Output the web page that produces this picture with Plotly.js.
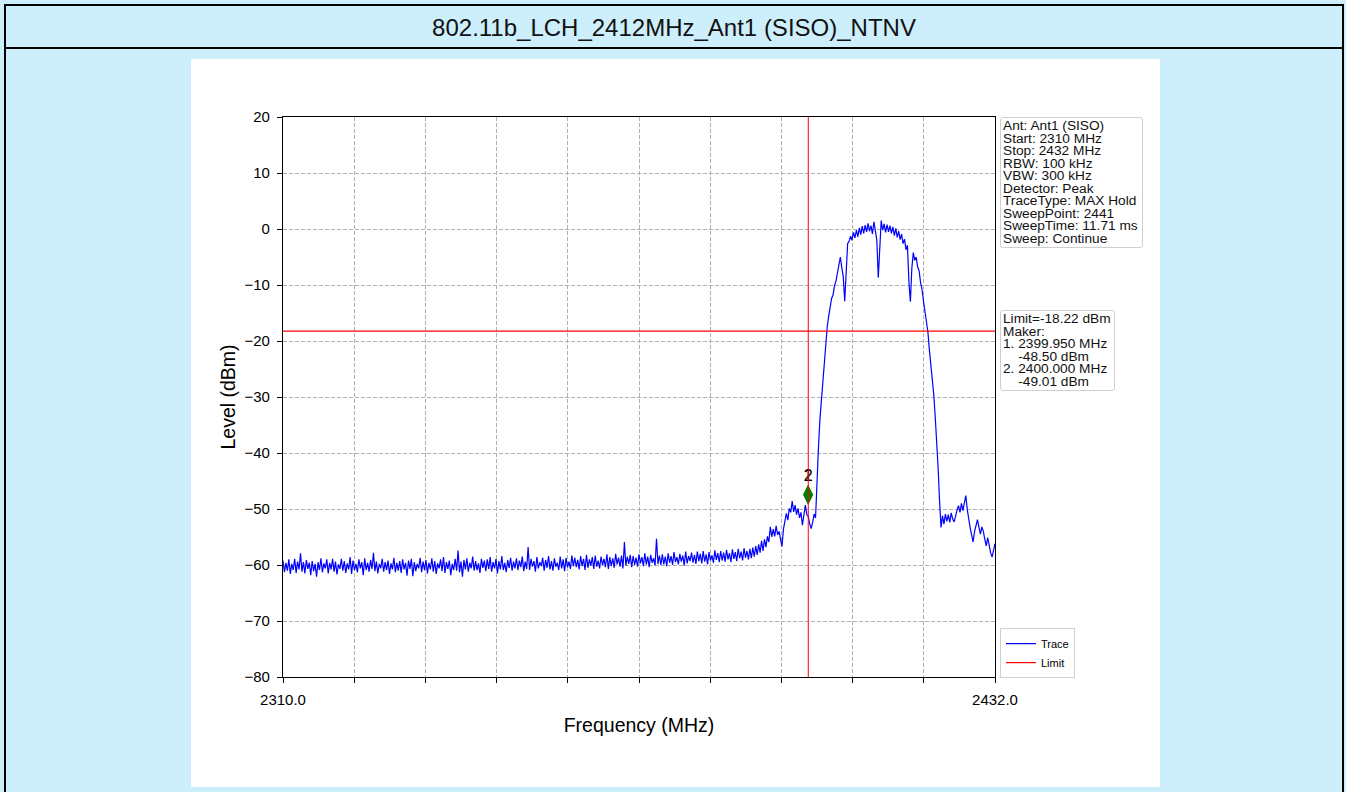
<!DOCTYPE html>
<html>
<head>
<meta charset="utf-8">
<script src="https://cdn.plot.ly/plotly-3.0.1.min.js"></script>
<style>
html,body{margin:0;padding:0;width:1346px;height:792px;overflow:hidden;background:#cdeefb;font-family:"Liberation Sans",Arial,sans-serif;}
#frame{position:absolute;left:4px;top:4px;width:1336px;height:800px;border:2px solid #000;border-bottom:none;box-sizing:content-box;}
#titlebar{height:41px;border-bottom:2px solid #000;text-align:center;line-height:44px;font-size:24px;color:#111;}
#chart{position:absolute;left:191px;top:59px;width:969px;height:728px;background:#fff;}
.box{position:absolute;z-index:5;background:#fff;border:1px solid #cfcfcf;border-radius:3px;font-size:13.7px;line-height:12.55px;color:#111;white-space:pre;padding:2px 2px 0 2px;box-sizing:border-box;}
</style>
</head>
<body>
<div id="frame"><div id="titlebar">802.11b_LCH_2412MHz_Ant1 (SISO)_NTNV</div></div>
<div id="chart"></div>
<div class="box" id="info" style="left:1000px;top:117px;width:143px;height:131px;"></div>
<div class="box" id="limitbox" style="left:1000px;top:310px;width:115px;height:81px;"></div>
<script>
// ---- data ----
const freqStart = 2310;       // MHz
const freqStop = 2432;        // MHz
const traceLevel = [
-59.2,-61.3,-59.6,-61.0,-59.0,-61.6,-59.8,-60.9,-58.9,-61.4,-59.4,-60.8,-57.9,-61.2,-59.5,-61.5,-59.1,-60.7,-59.6,-61.8,
-59.3,-61.1,-59.8,-62.1,-59.5,-60.9,-58.8,-61.3,-59.7,-60.6,-59.0,-61.5,-59.6,-60.8,-58.9,-61.2,-59.4,-61.7,-59.9,-60.7,
-58.9,-61.0,-59.3,-61.4,-59.7,-60.8,-58.6,-61.6,-59.2,-60.9,-59.8,-61.3,-59.0,-60.6,-59.5,-61.8,-58.8,-60.9,-59.6,-61.2,
-59.1,-60.7,-57.8,-61.1,-59.4,-61.5,-59.8,-60.6,-58.9,-61.2,-59.5,-60.9,-59.2,-61.6,-59.7,-60.8,-58.7,-61.3,-59.6,-61.0,
-59.3,-61.4,-59.0,-60.8,-59.6,-61.9,-59.2,-60.7,-58.9,-62.0,-59.5,-61.1,-59.8,-60.6,-58.7,-61.3,-59.4,-60.9,-59.1,-61.5,
-59.6,-60.8,-58.8,-61.2,-59.3,-61.6,-59.7,-60.6,-59.0,-61.1,-58.6,-61.4,-59.5,-60.7,-59.2,-61.8,-59.8,-60.9,-58.9,-61.0,
-57.4,-61.3,-59.4,-62.1,-59.1,-60.8,-58.8,-61.2,-59.6,-60.6,-58.5,-61.0,-59.3,-60.9,-59.7,-61.4,-58.9,-60.5,-59.2,-61.1,
-59.0,-60.7,-58.6,-61.2,-59.5,-60.6,-58.9,-61.5,-59.3,-60.8,-58.4,-60.9,-59.6,-61.3,-59.1,-60.5,-58.7,-61.0,-59.4,-60.6,
-58.8,-60.9,-59.2,-60.4,-58.5,-61.1,-59.4,-60.7,-56.8,-60.9,-58.9,-60.3,-59.3,-61.2,-58.6,-60.6,-59.5,-60.2,-58.7,-61.0,
-59.1,-60.5,-58.4,-60.8,-59.3,-61.0,-58.8,-60.3,-59.6,-60.9,-58.5,-60.6,-59.0,-61.1,-58.7,-60.4,-59.4,-60.7,-58.3,-60.2,
-58.7,-60.4,-59.1,-60.8,-58.4,-60.2,-58.9,-60.9,-58.2,-60.5,-59.0,-60.1,-58.6,-60.7,-58.3,-60.3,-59.2,-60.6,-58.5,-60.0,
-58.9,-60.4,-58.1,-60.7,-58.6,-60.2,-58.8,-60.5,-58.0,-59.9,-58.7,-60.3,-58.3,-60.6,-55.9,-60.1,-58.5,-59.8,-58.2,-60.4,
-58.4,-60.0,-58.7,-60.3,-58.1,-59.7,-58.6,-60.2,-57.9,-59.9,-58.5,-60.4,-58.2,-59.6,-58.8,-60.1,-55.3,-59.8,-58.3,-60.0,
-58.1,-59.9,-58.5,-60.2,-57.9,-59.6,-58.4,-60.0,-57.7,-59.5,-58.6,-59.9,-58.0,-59.4,-58.3,-60.1,-57.6,-59.7,-58.4,-59.3,
-57.8,-59.6,-58.2,-59.8,-57.6,-59.3,-58.0,-59.7,-57.5,-59.4,-58.1,-59.9,-57.7,-59.2,-58.3,-59.6,-57.4,-59.1,-57.9,-59.5,
-57.5,-59.2,-57.8,-59.4,-57.3,-59.0,-57.9,-59.5,-57.2,-58.9,-57.7,-59.3,-57.1,-58.8,-57.6,-59.2,-57.0,-58.7,-57.5,-59.0,
-57.1,-58.8,-56.9,-58.5,-56.6,-58.2,-56.3,-57.8,-55.7,-57.5,-55.4,-56.8,-54.9,-55.9,-53.2,-55.0,-53.6,-54.9,-53.0,-54.6,
-54.0,-55.8,-56.7,-53.6,-52.4,-50.8,-52.0,-49.9,-50.6,-48.6,-50.5,-49.3,-51.0,-49.9,-51.6,-50.6,-52.9,-51.0,-49.3,-51.0,
-51.3,-52.6,-53.5,-52.4,-50.9,-51.6,-44.5,-39.0,-34.0,-30.5,-27.3,-24.0,-20.2,-17.5,-15.6,-14.3,-12.4,-11.8,-10.1,-9.3,
-8.0,-6.3,-5.0,-6.9,-8.5,-12.9,-6.0,-2.6,-2.2,-1.3,-2.0,-0.6,-1.6,-0.2,-1.4,0.2,-1.0,0.5,-0.8,0.7,
-0.5,1.0,-0.4,0.6,-0.9,1.3,-0.3,-2.0,-8.7,-2.5,1.5,-0.2,0.9,-0.6,0.8,-0.5,0.6,-0.8,0.4,-1.2,
0.1,-1.5,-0.4,-1.9,-0.9,-2.6,-1.8,-3.7,-2.9,-9.5,-13.0,-7.0,-4.2,-5.6,-5.0,-6.8,-7.5,-9.6,-10.8,-12.9,
-14.6,-16.5,-18.4,-21.5,-23.8,-26.4,-29.5,-33.4,-37.5,-42.6,-48.5,-53.3,-51.2,-52.7,-50.9,-52.2,-51.0,-52.4,-50.7,-51.8,
-52.3,-51.1,-50.2,-49.4,-50.6,-49.0,-50.3,-48.9,-47.6,-50.1,-52.2,-53.4,-54.6,-55.9,-54.0,-53.1,-51.9,-53.3,-54.5,-53.2,
-54.0,-55.4,-56.6,-55.1,-56.9,-57.8,-58.6,-57.0,-56.2
];
const limitLevel = -18.22;
const markerFreqs = [2399.95, 2400.0];
const markerPlotLevels = [-47.4, -47.5];
const markerLabels = ["1", "2"];
const markerTableLevels = ["-48.50", "-49.01"];
const xTickVals = [2310, 2322.2, 2334.4, 2346.6, 2358.8, 2371, 2383.2, 2395.4, 2407.6, 2419.8, 2432];
const xTickText = ["2310.0", "", "", "", "", "", "", "", "", "", "2432.0"];
const yTickVals = [20, 10, 0, -10, -20, -30, -40, -50, -60, -70, -80];
const infoLines = ["Ant: Ant1 (SISO)", "Start: 2310 MHz", "Stop: 2432 MHz", "RBW: 100 kHz", "VBW: 300 kHz",
  "Detector: Peak", "TraceType: MAX Hold", "SweepPoint: 2441", "SweepTime: 11.71 ms", "Sweep: Continue"];

// ---- side boxes ----
document.getElementById('info').textContent = infoLines.join('\n');
const limLines = ["Limit=" + limitLevel.toFixed(2) + " dBm", "Maker:"];
markerFreqs.forEach((f, i) => {
  limLines.push((i + 1) + ". " + f.toFixed(3) + " MHz");
  limLines.push("    " + markerTableLevels[i] + " dBm");
});
document.getElementById('limitbox').textContent = limLines.join('\n');

// ---- chart ----
const font = 'Liberation Sans, Arial, sans-serif';
const freqStep = (freqStop - freqStart) / (traceLevel.length - 1);
const traces = [
  {type: 'scatter', mode: 'lines', name: 'Trace', x0: freqStart, dx: freqStep, y: traceLevel,
   line: {color: '#0000ff', width: 1.2}},
  {type: 'scatter', mode: 'lines', name: 'Limit', x: [freqStart, freqStop], y: [limitLevel, limitLevel],
   line: {color: '#ff0000', width: 1.2}},
  {type: 'scatter', mode: 'markers+text', showlegend: false, x: markerFreqs, y: markerPlotLevels,
   text: markerLabels, textposition: 'top center', textfont: {family: font, size: 16, color: '#000'},
   marker: {symbol: 'diamond-tall', size: 14, color: '#008000', line: {width: 0}}}
];
const axisCommon = {
  ticks: 'outside', ticklen: 5, tickwidth: 1, tickcolor: '#000', ticklabelstandoff: 4,
  showline: true, linecolor: '#000', linewidth: 1.2, mirror: true,
  showgrid: true, gridcolor: '#b0b0b0', gridwidth: 0.8, griddash: '4px,2px',
  zeroline: false, automargin: false, tickfont: {family: font, size: 15, color: '#000'}
};
const layout = {
  width: 969, height: 728,
  margin: {l: 92, r: 165, t: 58, b: 110},
  paper_bgcolor: '#ffffff', plot_bgcolor: '#ffffff',
  font: {family: font, color: '#000'},
  showlegend: true,
  legend: {x: 1.007, xanchor: 'left', y: -0.002, yanchor: 'bottom', bgcolor: '#fff',
           bordercolor: '#cfcfcf', borderwidth: 1, font: {family: font, size: 11, color: '#000'}},
  xaxis: Object.assign({}, axisCommon, {
    range: [freqStart, freqStop], tickmode: 'array', tickvals: xTickVals, ticktext: xTickText,
    title: {text: 'Frequency (MHz)', font: {family: font, size: 19.5, color: '#000'}, standoff: 11}
  }),
  yaxis: Object.assign({}, axisCommon, {
    range: [-80, 20], tickmode: 'array', tickvals: yTickVals,
    title: {text: 'Level (dBm)', font: {family: font, size: 19.5, color: '#000'}, standoff: 3}
  }),
  shapes: [
    {type: 'line', xref: 'x', yref: 'paper', x0: markerFreqs[1], x1: markerFreqs[1], y0: 0, y1: 1,
     line: {color: '#ff0000', width: 1}}
  ]
};
Plotly.newPlot('chart', traces, layout, {displayModeBar: false, responsive: false});
</script>
</body>
</html>
